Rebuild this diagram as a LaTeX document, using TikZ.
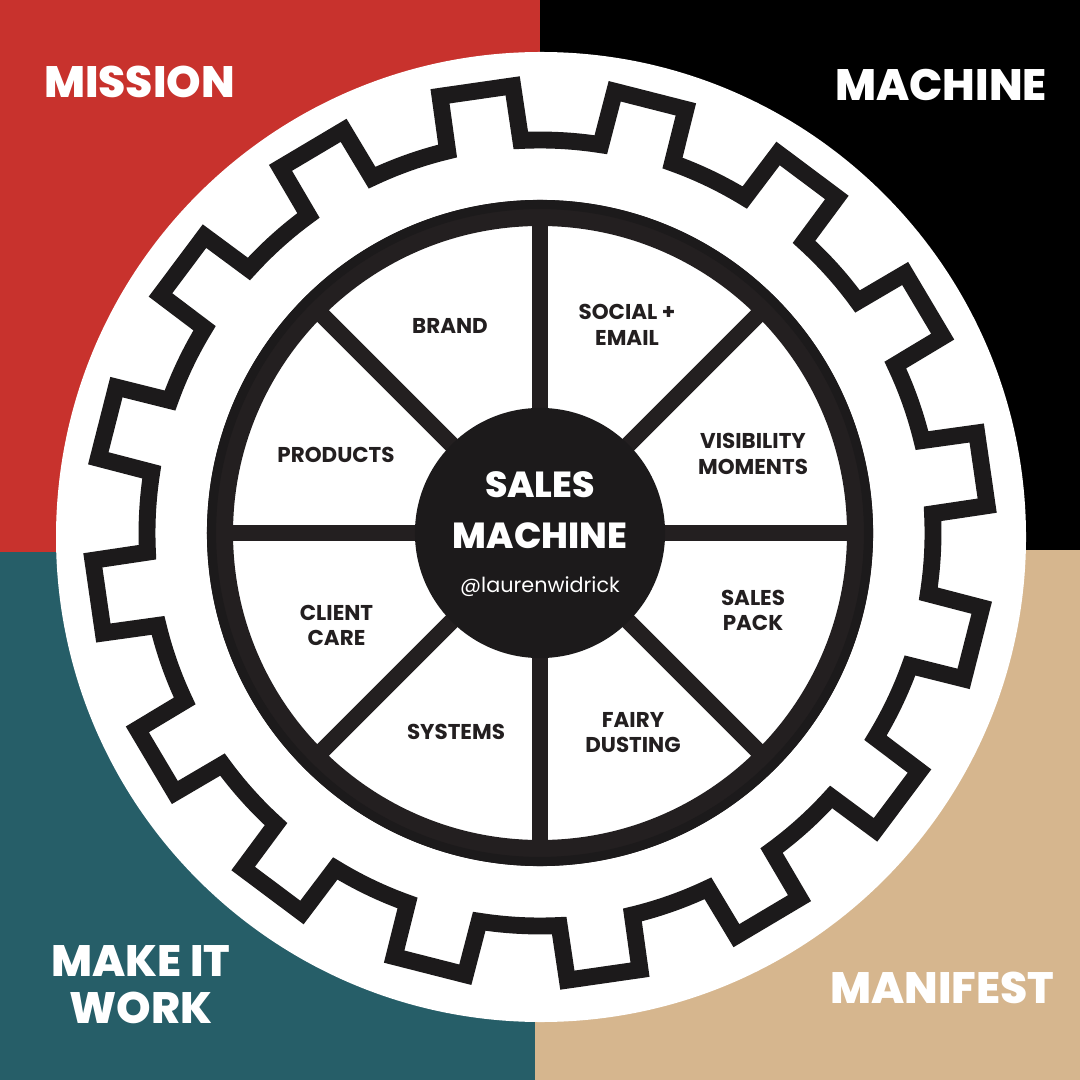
\documentclass[tikz,border=0pt]{standalone}
\usepackage{fontspec}
\setmainfont{Poppins}
\newfontfamily\heavyfont{Poppins ExtraBold}
\usepackage{tikz}

\definecolor{missionred}{HTML}{C8322D}
\definecolor{workteal}{HTML}{265E68}
\definecolor{manifesttan}{HTML}{D6B68E}
\definecolor{gearblack}{HTML}{1C1A1B}
\definecolor{wheelblack}{HTML}{231F20}

\tikzset{
  corner/.style={text=white, font=\heavyfont\fontsize{12.5pt}{13.4pt}\selectfont, align=center, inner sep=0pt},
  part/.style={text=wheelblack, font=\bfseries\fontsize{6.1pt}{7.2pt}\selectfont, align=center, inner sep=0pt},
  gear/.style={draw=gearblack, line width=4.8pt, line join=miter},
  ring/.style={draw=wheelblack, line width=7.4pt},
  spoke/.style={draw=wheelblack, line width=4.7pt},
  hub/.style={circle, fill=gearblack, minimum size=2.5cm, inner sep=0pt},
  hubtitle/.style={text=white, font=\heavyfont\fontsize{10.3pt}{14.3pt}\selectfont, align=center, inner sep=0pt},
  handle/.style={text=white, font=\fontsize{5.9pt}{7pt}\selectfont, inner sep=0pt, anchor=base}
}

\begin{document}
\begin{tikzpicture}[x=0.01cm,y=-0.01cm]

%Background quadrants
\useasboundingbox (0,0) rectangle (1080,1080);
\fill[missionred] (0,0) rectangle (540,552);
\fill[black] (540,0) rectangle (1080,550);
\fill[workteal] (0,552) rectangle (535,1080);
\fill[manifesttan] (535,550) rectangle (1080,1080);

\node[corner] (mission) at (139.5,81.5) {MISSION};
\node[corner] (machine) at (941,84.5) {MACHINE};
\node[corner] (makeit) at (141,985) {MAKE IT\\WORK};
\node[corner] (manifest) at (942.5,987.5) {MANIFEST};

%Gear
\fill[white] (541,537) circle [radius=485];
\coordinate (c) at (540,533);
\begin{scope}[shift={(c)}]
\draw[gear] (8.9:393) \foreach \k [evaluate=\k as \a using 14.3+22.5*\k] in {0,...,15}{
  -- ({\a-5.4}:393) -- ({\a-4.7}:448) -- ({\a+4.7}:448) -- ({\a+5.4}:393)
  arc [start angle=\a+5.4, end angle=\a+17.1, radius=393]} -- cycle;
\end{scope}

%Wheel
\foreach \a in {0,45,...,315} \draw[spoke] (c) -- ++(\a:320);
\draw[ring] (c) circle [radius=320];
\draw[draw=gearblack, line width=2.6pt] (c) circle [radius=328.5];
\node[hub] (hub) at (c) {};
\node[hubtitle] (title) at (540,510) {SALES\\MACHINE};
\node[handle] (handle) at (540,592) {@laurenwidrick};

\node[part] (brand) at (450,326) {BRAND};
\node[part] (social) at (627,325) {SOCIAL +\\EMAIL};
\node[part] (visibility) at (753,454) {VISIBILITY\\MOMENTS};
\node[part] (salespack) at (753,610.5) {SALES\\PACK};
\node[part] (fairy) at (633,732.5) {FAIRY\\DUSTING};
\node[part] (systems) at (456,732) {SYSTEMS};
\node[part] (client) at (336.5,625.5) {CLIENT\\CARE};
\node[part] (products) at (336,455) {PRODUCTS};

\end{tikzpicture}
\end{document}
